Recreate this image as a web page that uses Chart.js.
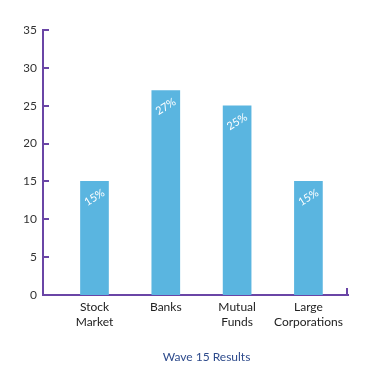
<!DOCTYPE html>
<html>
<head>
<meta charset="utf-8">
<script src="https://cdn.jsdelivr.net/npm/chart.js@4"></script>
<style>
html,body{margin:0;padding:0;background:#fff;}
#wrap{width:389px;height:380px;}
</style>
</head>
<body>
<div id="wrap"><canvas id="c" width="389" height="380"></canvas></div>
<script>
const categories = [["Stock","Market"],["Banks"],["Mutual","Funds"],["Large","Corporations"]];
const values = [15, 27, 25, 15];
const valueLabels = ["15%", "27%", "25%", "15%"];
const yTicks = [0, 5, 10, 15, 20, 25, 30, 35];
const title = "Wave 15 Results";

const AXIS = "#6a45a6";
const BAR = "#5ab5e0";
const FONT = "Lato, 'Open Sans', sans-serif";

const innerTicks = {
  id: "innerTicks",
  afterDraw(chart) {
    const ctx = chart.ctx, y = chart.scales.y, a = chart.chartArea;
    ctx.save();
    ctx.strokeStyle = AXIS;
    ctx.lineWidth = 2;
    yTicks.forEach(v => {
      if (v === 0) return;
      const py = Math.round(y.getPixelForValue(v));
      ctx.beginPath();
      ctx.moveTo(a.left, py);
      ctx.lineTo(a.left + 6, py);
      ctx.stroke();
    });
    ctx.beginPath();
    ctx.moveTo(a.right - 1, a.bottom);
    ctx.lineTo(a.right - 1, a.bottom - 7);
    ctx.stroke();
    // value labels
    const meta = chart.getDatasetMeta(0);
    ctx.fillStyle = "#ffffff";
    ctx.font = "11px " + FONT;
    ctx.textAlign = "center";
    ctx.textBaseline = "middle";
    meta.data.forEach((el, i) => {
      ctx.save();
      ctx.translate(el.x, el.y + 16);
      ctx.rotate(-32 * Math.PI / 180);
      ctx.fillText(valueLabels[i], 0, 0);
      ctx.restore();
    });
    ctx.restore();
  }
};

new Chart(document.getElementById("c"), {
  type: "bar",
  data: {
    datasets: [{
      data: values.map((v, i) => ({x: i, y: v})),
      backgroundColor: BAR,
      borderWidth: 0,
      barThickness: 28
    }]
  },
  options: {
    responsive: false,
    animation: false,
    devicePixelRatio: 1,
    layout: { padding: { left: 24, right: 0, top: 30, bottom: 16 } },
    plugins: {
      legend: { display: false },
      tooltip: { enabled: false },
      title: {
        display: true,
        text: title,
        position: "bottom",
        color: "#2e4b8c",
        font: { family: FONT, size: 12, weight: "normal", lineHeight: 1.2 },
        padding: { top: 0, bottom: 0 }
      }
    },
    scales: {
      x: {
        type: "linear",
        min: -0.722,
        max: 3.555,
        offset: false,
        afterFit: s => { s.height = 54.6; },
        afterBuildTicks: s => { s.ticks = categories.map((c, i) => ({value: i})); },
        grid: { display: false, drawTicks: false },
        border: { display: true, color: AXIS, width: 2 },
        ticks: {
          padding: 4,
          color: "#222",
          font: { family: FONT, size: 12, lineHeight: 1.3 },
          maxRotation: 0,
          autoSkip: false,
          callback: (v) => categories[v]
        }
      },
      y: {
        min: 0,
        max: 35,
        afterFit: s => { s.width = 19; },
        afterBuildTicks: s => { s.ticks = yTicks.map(v => ({value: v})); },
        grid: { display: false, drawTicks: false },
        border: { display: true, color: AXIS, width: 2 },
        ticks: {
          padding: 6,
          color: "#333",
          font: { family: FONT, size: 12 }
        }
      },
      yRight: {
        position: "right",
        display: true,
        afterFit: s => { s.width = 41; },
        grid: { display: false, drawTicks: false },
        border: { display: false },
        ticks: { display: false }
      }
    }
  },
  plugins: [innerTicks]
});
</script>
</body>
</html>
